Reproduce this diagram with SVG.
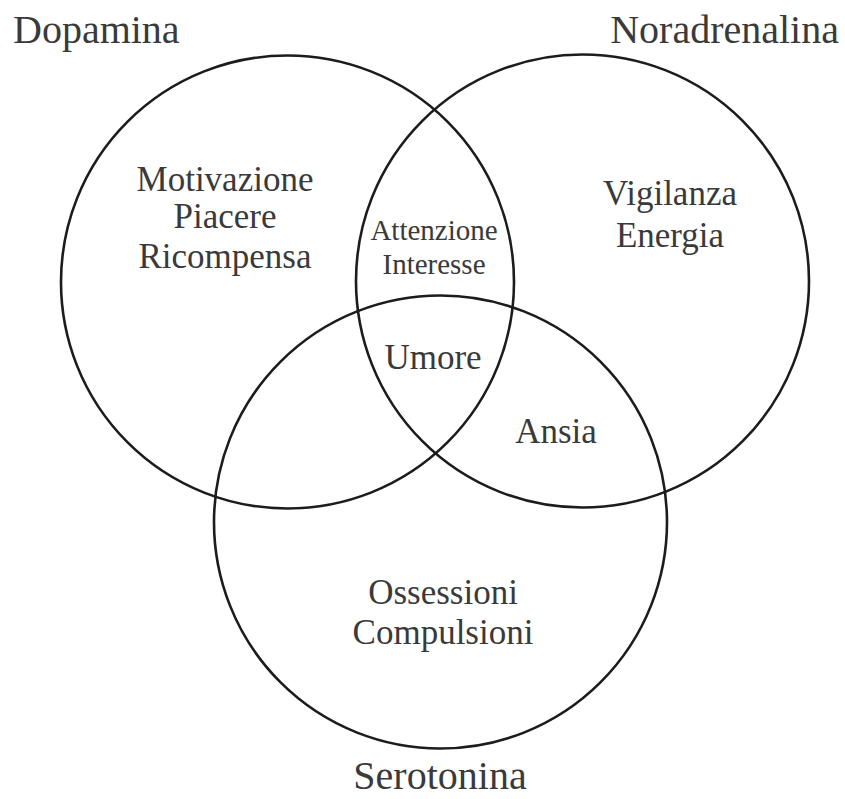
<svg xmlns="http://www.w3.org/2000/svg" width="845" height="799" viewBox="0 0 845 799">
<style>
  .c { fill: none; stroke: #1c1c1c; stroke-width: 2.6; }
  text { font-family: "Liberation Serif", "Times New Roman", serif; fill: #3a3a3a; text-anchor: middle; }
  .t { font-size: 40px; }
  .l { font-size: 35px; }
  .s { font-size: 29px; }
</style>
<rect width="845" height="799" fill="#ffffff"/>
<g id="connectors">
  <circle id="c-dopamina" class="c" cx="287.5" cy="282" r="226.5"/>
  <circle id="c-noradrenalina" class="c" cx="582.5" cy="281" r="226.5"/>
  <circle id="c-serotonina" class="c" cx="440.5" cy="522" r="226.5"/>
</g>
<g id="dopamina"><text class="t" x="13" y="43" style="text-anchor:start">Dopamina</text></g>
<g id="noradrenalina"><text class="t" x="839" y="43" style="text-anchor:end">Noradrenalina</text></g>
<g id="serotonina"><text class="t" x="440" y="789">Serotonina</text></g>
<g id="dopamina-only">
  <text class="l" x="225" y="191">Motivazione</text>
  <text class="l" x="225" y="228">Piacere</text>
  <text class="l" x="225" y="268">Ricompensa</text>
</g>
<g id="noradrenalina-only">
  <text class="l" x="670" y="205">Vigilanza</text>
  <text class="l" x="670" y="247">Energia</text>
</g>
<g id="dopamina-noradrenalina">
  <text class="s" x="434" y="240">Attenzione</text>
  <text class="s" x="434" y="274">Interesse</text>
</g>
<g id="centro"><text class="l" x="433" y="369">Umore</text></g>
<g id="noradrenalina-serotonina"><text class="l" x="556" y="443">Ansia</text></g>
<g id="serotonina-only">
  <text class="l" x="443" y="604">Ossessioni</text>
  <text class="l" x="443" y="644">Compulsioni</text>
</g>
</svg>
